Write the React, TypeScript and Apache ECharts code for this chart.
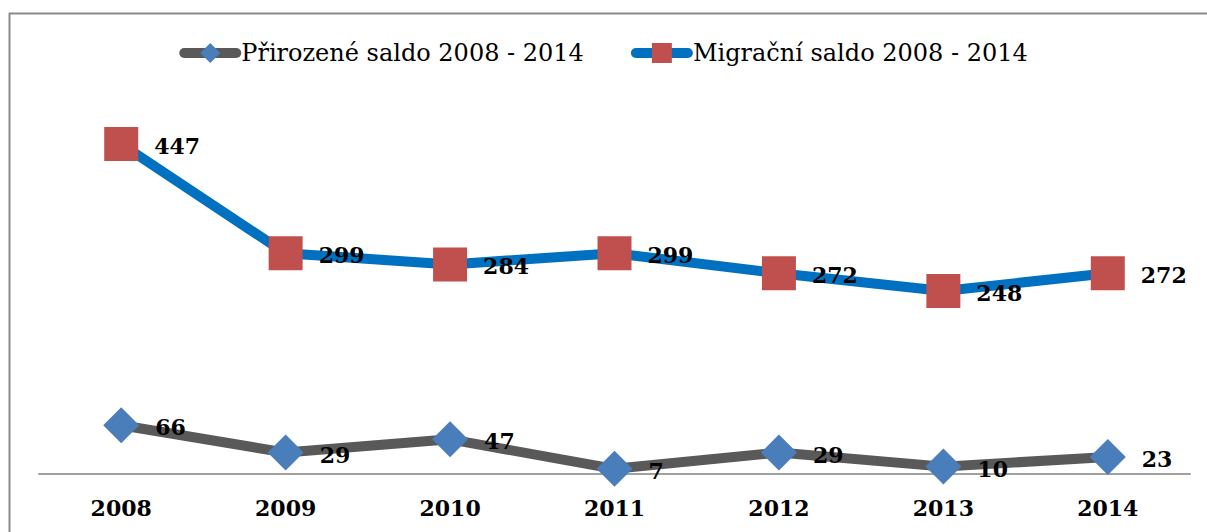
import React, { useEffect, useRef } from "react";
import * as echarts from "echarts";

const years = ["2008", "2009", "2010", "2011", "2012", "2013", "2014"];
const prirozene = [66, 29, 47, 7, 29, 10, 23];
const migracni = [447, 299, 284, 299, 272, 248, 272];
const seriesNames = ["Přirozené saldo 2008 - 2014", "Migrační saldo 2008 - 2014"];

const SERIF = "'DejaVu Serif', serif";

export default function App() {
  const ref = useRef<HTMLDivElement>(null);
  useEffect(() => {
    if (!ref.current) return;
    const chart = echarts.init(ref.current, undefined, { renderer: "svg" });
    const labelStyle = {
      show: true,
      position: "right" as const,
      distance: 16,
      offset: [0, 2],
      fontFamily: SERIF,
      fontWeight: "bold" as const,
      fontSize: 22,
      color: "#000",
    };
    chart.setOption({
      animation: false,
      backgroundColor: "#fff",
      graphic: [
        { type: "line", shape: { x1: 9, y1: 13.5, x2: 1207, y2: 13.5 }, style: { stroke: "#8a8a8a", lineWidth: 2 } },
        { type: "line", shape: { x1: 9.5, y1: 13, x2: 9.5, y2: 532 }, style: { stroke: "#8a8a8a", lineWidth: 2 } },
      ],
      legend: {
        top: 36,
        left: "center",
        itemWidth: 52,
        itemHeight: 25,
        itemGap: 47,
        lineStyle: { width: 10, cap: "round" },
        textStyle: { fontFamily: SERIF, fontSize: 24, color: "#000" },
        data: seriesNames,
      },
      grid: { left: 39, right: 17, top: 105, bottom: 58, containLabel: false },
      xAxis: {
        type: "category",
        data: years,
        boundaryGap: true,
        axisLine: { show: true, lineStyle: { color: "#a0a0a0", width: 2 } },
        axisTick: { show: false },
        axisLabel: { fontFamily: SERIF, fontWeight: "bold", fontSize: 22, color: "#000", margin: 23 },
      },
      yAxis: {
        type: "value",
        min: 0,
        max: 500,
        show: false,
        splitLine: { show: false },
      },
      series: [
        {
          name: seriesNames[0],
          type: "line",
          data: prirozene,
          symbol: "diamond",
          symbolSize: 36,
          lineStyle: { color: "#595959", width: 10, cap: "round", join: "round" },
          itemStyle: { color: "#4a7ebb" },
          label: labelStyle,
          z: 2,
        },
        {
          name: seriesNames[1],
          type: "line",
          data: migracni,
          symbol: "rect",
          symbolSize: 34,
          lineStyle: { color: "#0070c0", width: 10, cap: "round", join: "round" },
          itemStyle: { color: "#c0504d" },
          label: labelStyle,
          z: 3,
        },
      ],
    });
    return () => chart.dispose();
  }, []);
  return <div ref={ref} style={{ position: "absolute", left: 0, top: 0, width: 1207, height: 532 }} />;
}
